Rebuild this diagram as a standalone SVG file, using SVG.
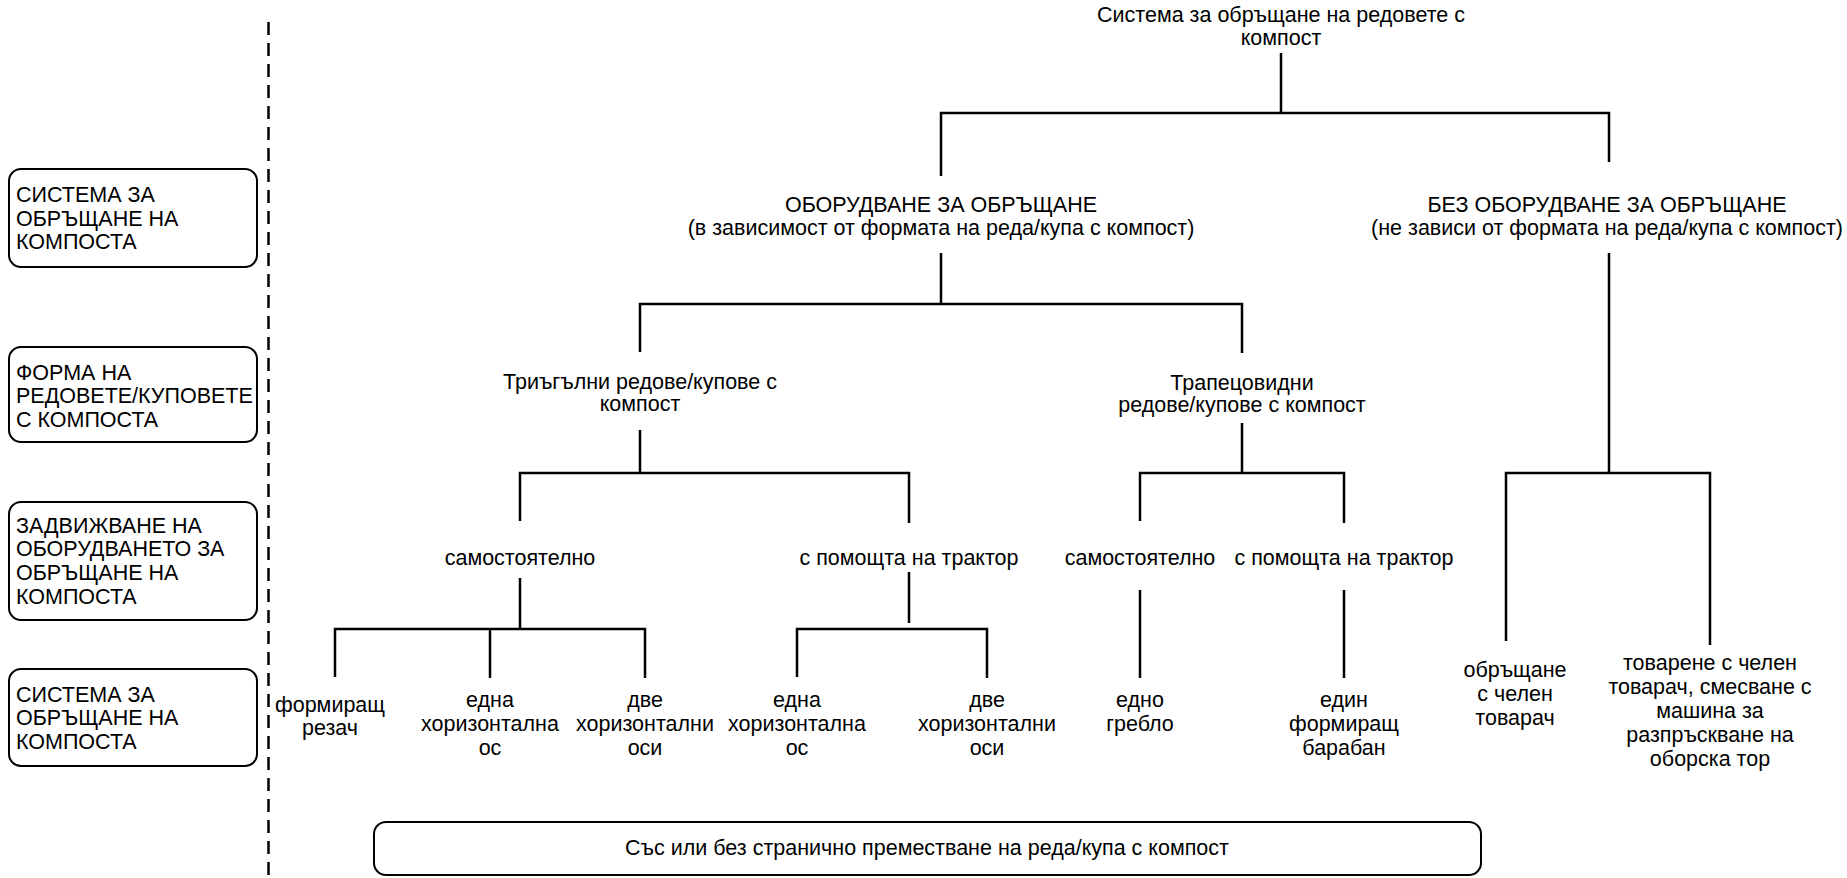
<svg xmlns="http://www.w3.org/2000/svg" width="1847" height="878" viewBox="0 0 1847 878">
  <style>
    text { font-family: "Liberation Sans", Arial, sans-serif; font-size: 21.5px; fill: #000; }
    .c { text-anchor: middle; }
    .box { fill: #fff; stroke: #000; stroke-width: 2; }
    .wire { fill: none; stroke: #000; stroke-width: 2.5; stroke-linecap: butt; stroke-linejoin: miter; }
    .divider { fill: none; stroke: #000; stroke-width: 2.5; stroke-dasharray: 13 8; }
  </style>
  <rect width="1847" height="878" fill="#fff"/>

  <!-- level legend on the left -->
  <g id="legend-system">
    <rect class="box" x="9" y="169" width="248" height="98" rx="12"/>
    <text x="16" y="202">СИСТЕМА ЗА</text>
    <text x="16" y="226">ОБРЪЩАНЕ НА</text>
    <text x="16" y="249">КОМПОСТА</text>
  </g>
  <g id="legend-shape">
    <rect class="box" x="9" y="347" width="248" height="95" rx="12"/>
    <text x="16" y="380">ФОРМА НА</text>
    <text x="16" y="403">РЕДОВЕТЕ/КУПОВЕТЕ</text>
    <text x="16" y="427">С КОМПОСТА</text>
  </g>
  <g id="legend-drive">
    <rect class="box" x="9" y="502" width="248" height="118" rx="12"/>
    <text x="16" y="533">ЗАДВИЖВАНЕ НА</text>
    <text x="16" y="556">ОБОРУДВАНЕТО ЗА</text>
    <text x="16" y="580">ОБРЪЩАНЕ НА</text>
    <text x="16" y="604">КОМПОСТА</text>
  </g>
  <g id="legend-turning">
    <rect class="box" x="9" y="669" width="248" height="97" rx="12"/>
    <text x="16" y="702">СИСТЕМА ЗА</text>
    <text x="16" y="725">ОБРЪЩАНЕ НА</text>
    <text x="16" y="749">КОМПОСТА</text>
  </g>

  <line class="divider" x1="268.5" y1="22" x2="268.5" y2="878"/>

  <!-- tree connectors -->
  <g id="connectors" class="wire">
    <path d="M1281 53 V113 M941 176 V113 H1609 V162"/>
    <path d="M941 253 V304 M640 352 V304 H1242 V353"/>
    <path d="M640 430 V473 M520 521 V473 H909 V523"/>
    <path d="M1242 423 V473 M1140 521 V473 H1344 V523"/>
    <path d="M1609 253 V473 M1506 641 V473 H1710 V645"/>
    <path d="M520 578 V629 M335 677 V629 H645 V678 M490 629 V678"/>
    <path d="M909 572 V623 M797 677 V629 H987 V678"/>
    <path d="M1140 590 V678"/>
    <path d="M1344 590 V678"/>
  </g>

  <!-- tree nodes -->
  <g id="root">
    <text class="c" x="1281" y="22">Система за обръщане на редовете с</text>
    <text class="c" x="1281" y="45">компост</text>
  </g>
  <g id="with-equipment">
    <text class="c" x="941" y="212">ОБОРУДВАНЕ ЗА ОБРЪЩАНЕ</text>
    <text class="c" x="941" y="235">(в зависимост от формата на реда/купа с компост)</text>
  </g>
  <g id="without-equipment">
    <text class="c" x="1607" y="212">БЕЗ ОБОРУДВАНЕ ЗА ОБРЪЩАНЕ</text>
    <text class="c" x="1607" y="235">(не зависи от формата на реда/купа с компост)</text>
  </g>
  <g id="triangular">
    <text class="c" x="640" y="389">Триъгълни редове/купове с</text>
    <text class="c" x="640" y="411">компост</text>
  </g>
  <g id="trapezoidal">
    <text class="c" x="1242" y="390">Трапецовидни</text>
    <text class="c" x="1242" y="412">редове/купове с компост</text>
  </g>
  <g id="tri-self">
    <text class="c" x="520" y="565">самостоятелно</text>
  </g>
  <g id="tri-tractor">
    <text class="c" x="909" y="565">с помощта на трактор</text>
  </g>
  <g id="trap-self">
    <text class="c" x="1140" y="565">самостоятелно</text>
  </g>
  <g id="trap-tractor">
    <text class="c" x="1344" y="565">с помощта на трактор</text>
  </g>
  <g id="cutter">
    <text class="c" x="330" y="712">формиращ</text>
    <text class="c" x="330" y="735">резач</text>
  </g>
  <g id="tri-self-one-axis">
    <text class="c" x="490" y="707">една</text>
    <text class="c" x="490" y="731">хоризонтална</text>
    <text class="c" x="490" y="755">ос</text>
  </g>
  <g id="tri-self-two-axes">
    <text class="c" x="645" y="707">две</text>
    <text class="c" x="645" y="731">хоризонтални</text>
    <text class="c" x="645" y="755">оси</text>
  </g>
  <g id="tri-tractor-one-axis">
    <text class="c" x="797" y="707">една</text>
    <text class="c" x="797" y="731">хоризонтална</text>
    <text class="c" x="797" y="755">ос</text>
  </g>
  <g id="tri-tractor-two-axes">
    <text class="c" x="987" y="707">две</text>
    <text class="c" x="987" y="731">хоризонтални</text>
    <text class="c" x="987" y="755">оси</text>
  </g>
  <g id="rake">
    <text class="c" x="1140" y="707">едно</text>
    <text class="c" x="1140" y="731">гребло</text>
  </g>
  <g id="drum">
    <text class="c" x="1344" y="707">един</text>
    <text class="c" x="1344" y="731">формиращ</text>
    <text class="c" x="1344" y="755">барабан</text>
  </g>
  <g id="front-loader">
    <text class="c" x="1515" y="677">обръщане</text>
    <text class="c" x="1515" y="701">с челен</text>
    <text class="c" x="1515" y="725">товарач</text>
  </g>
  <g id="loader-spreader">
    <text class="c" x="1710" y="670">товарене с челен</text>
    <text class="c" x="1710" y="694">товарач, смесване с</text>
    <text class="c" x="1710" y="718">машина за</text>
    <text class="c" x="1710" y="742">разпръскване на</text>
    <text class="c" x="1710" y="766">оборска тор</text>
  </g>

  <g id="lateral-shift">
    <rect class="box" x="374" y="822" width="1107" height="53" rx="12"/>
    <text class="c" x="927" y="855">Със или без странично преместване на реда/купа с компост</text>
  </g>
</svg>
